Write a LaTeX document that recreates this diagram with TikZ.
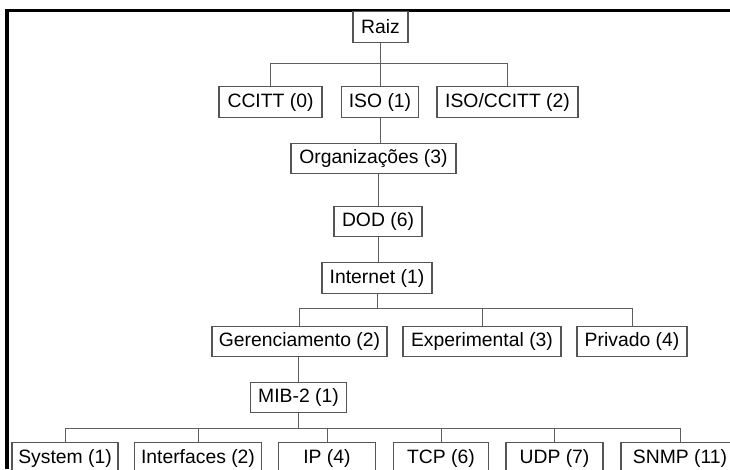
\documentclass[tikz,border=0pt]{standalone}
\usepackage{fontspec}
\setmainfont{Liberation Sans}
\begin{document}
\begin{tikzpicture}[x=0.75pt,y=-0.75pt,
  box/.style={draw={rgb,255:red,85;green,85;blue,85}, line width=0.8pt, fill=white,
    inner sep=0pt, minimum height=22.9pt, text=black,
    font=\fontsize{14.5pt}{17pt}\selectfont},
  link/.style={draw={rgb,255:red,95;green,95;blue,95}, line width=0.75pt}]
\useasboundingbox (0,0) rectangle (730,469);
\clip (0,0) rectangle (730,469);

% outer frame (top and left edges)
\fill[black] (5,9) rectangle (730,12);
\fill[black] (5,9) rectangle (9,469);

% level 0 and 1
\node[box, minimum width=55*0.75pt]  (raiz)     at (380.5,27)  {Raiz};
\node[box, minimum width=103*0.75pt] (ccitt)    at (270.5,102) {CCITT (0)};
\node[box, minimum width=77*0.75pt]  (iso)      at (380,102)   {ISO (1)};
\node[box, minimum width=141*0.75pt] (isoccitt) at (507.5,102) {ISO/CCITT (2)};

% chain down to Internet
\node[box, minimum width=165*0.75pt] (org)      at (373.5,158.5) {Organizações (3)};
\node[box, minimum width=88*0.75pt]  (dod)      at (378,221.5)   {DOD (6)};
\node[box, minimum width=110*0.75pt] (internet) at (377,278)     {Internet (1)};

% Internet children
\node[box, minimum width=175*0.75pt] (ger)  at (299.5,341.5) {Gerenciamento (2)};
\node[box, minimum width=158*0.75pt] (exp)  at (482,341.5)   {Experimental (3)};
\node[box, minimum width=110*0.75pt] (priv) at (632,341.5)   {Privado (4)};

\node[box, minimum width=96*0.75pt]  (mib)  at (298.5,397.5) {MIB-2 (1)};

% MIB-2 groups
\node[box, minimum width=106*0.75pt] (sys)   at (65,458)    {System (1)};
\node[box, minimum width=127*0.75pt] (ifs)   at (198,458)   {Interfaces (2)};
\node[box, minimum width=97*0.75pt]  (ip)    at (327,458)   {IP (4)};
\node[box, minimum width=95*0.75pt]  (tcp)   at (441,458)   {TCP (6)};
\node[box, minimum width=97*0.75pt]  (udp)   at (554.5,458) {UDP (7)};
\node[box, minimum width=118*0.75pt] (snmp)  at (680,458)   {SNMP (11)};

% connectors
\coordinate (b1) at (380.5,63);
\draw[link] (raiz.south) -- (b1);
\draw[link] (b1) -| (ccitt.north);
\draw[link] (b1) -| (iso.north);
\draw[link] (b1) -| (isoccitt.north);

\draw[link] (iso.south) -- (iso.south |- org.north);
\draw[link] (dod.north |- org.south) -- (dod.north);
\draw[link] (dod.south) -- (dod.south |- internet.north);

\coordinate (b2) at (377,308);
\draw[link] (internet.south) -- (b2);
\draw[link] (b2) -| (ger.north);
\draw[link] (b2) -| (exp.north);
\draw[link] (b2) -| (priv.north);

\draw[link] (mib.north |- ger.south) -- (mib.north);

\coordinate (b3) at (298.5,428);
\draw[link] (mib.south) -- (b3);
\draw[link] (b3) -| (sys.north);
\draw[link] (b3) -| (ifs.north);
\draw[link] (b3) -| (ip.north);
\draw[link] (b3) -| (tcp.north);
\draw[link] (b3) -| (udp.north);
\draw[link] (b3) -| (snmp.north);
\end{tikzpicture}
\end{document}
